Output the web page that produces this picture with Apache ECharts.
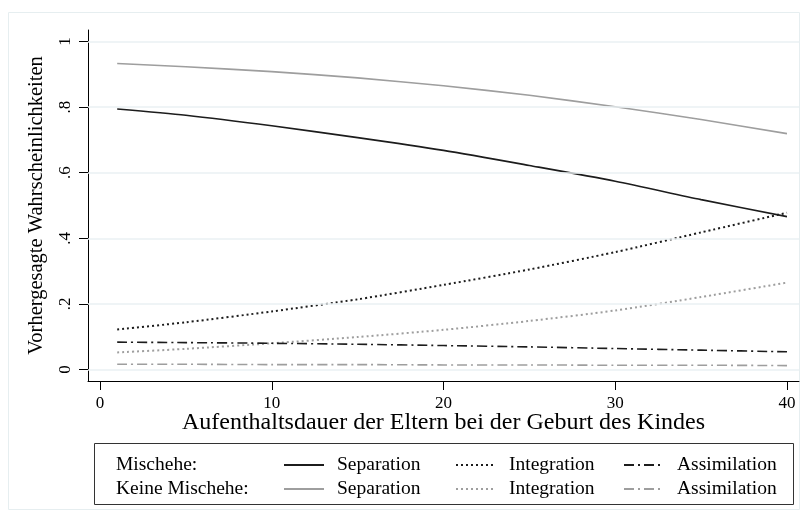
<!DOCTYPE html>
<html>
<head>
<meta charset="utf-8">
<script src="https://cdn.jsdelivr.net/npm/echarts@6/dist/echarts.min.js"></script>
<style>
  html, body { margin: 0; padding: 0; background: #fff; }
  #chart { width: 808px; height: 522px; }
</style>
</head>
<body>
<div id="chart"></div>
<script>
// ---- data ----
const years = [1, 5, 10, 15, 20, 25, 30, 35, 40];
const mischSeparation = [0.794, 0.775, 0.743, 0.707, 0.668, 0.622, 0.574, 0.518, 0.466];
const mischIntegration = [0.122, 0.144, 0.177, 0.214, 0.258, 0.305, 0.358, 0.418, 0.478];
const mischAssimilation = [0.0835, 0.082, 0.080, 0.077, 0.073, 0.069, 0.064, 0.059, 0.054];
const keineSeparation = [0.933, 0.923, 0.908, 0.889, 0.865, 0.836, 0.801, 0.762, 0.719];
const keineIntegration = [0.052, 0.063, 0.080, 0.099, 0.121, 0.148, 0.180, 0.221, 0.265];
const keineAssimilation = [0.016, 0.016, 0.015, 0.015, 0.014, 0.014, 0.013, 0.013, 0.012];
const xTicks = [0, 10, 20, 30, 40];
const yTicks = [0, 0.2, 0.4, 0.6, 0.8, 1];
const yTickLabels = ['0', '.2', '.4', '.6', '.8', '1'];
const xTitle = 'Aufenthaltsdauer der Eltern bei der Geburt des Kindes';
const yTitle = 'Vorhergesagte Wahrscheinlichkeiten';
const groupLabels = ['Mischehe:', 'Keine Mischehe:'];
const outcomeNames = ['Separation', 'Integration', 'Assimilation'];

// ---- styling ----
const FONT = 'Liberation Serif';
const DARK = '#1c1c1c';
const GRAY = '#9e9e9e';
const DOT = [2, 3];
const DASHDOT = [10, 4, 2, 4];

const pairs = d => years.map((x, i) => [x, d[i]]);
function lineSeries(name, data, color, type, width) {
  return {
    name: name, type: 'line', data: pairs(data), symbol: 'none', smooth: 0.25, z: 3,
    lineStyle: { color: color, width: width, type: type },
    itemStyle: { color: color }
  };
}

const series = [
  lineSeries('Mischehe: Separation', mischSeparation, DARK, 'solid', 1.6),
  lineSeries('Keine Mischehe: Separation', keineSeparation, GRAY, 'solid', 1.6),
  lineSeries('Mischehe: Integration', mischIntegration, DARK, DOT, 2),
  lineSeries('Keine Mischehe: Integration', keineIntegration, GRAY, DOT, 2),
  lineSeries('Mischehe: Assimilation', mischAssimilation, DARK, DASHDOT, 1.6),
  lineSeries('Keine Mischehe: Assimilation', keineAssimilation, GRAY, DASHDOT, 1.6),
  {
    name: 'grid', type: 'line', data: [], z: 1, silent: true,
    markLine: {
      silent: true, symbol: 'none', label: { show: false },
      lineStyle: { color: '#eaf1f3', width: 1.6, type: 'solid' },
      data: yTicks.map(v => ({ yAxis: v }))
    }
  }
];

const legendCols = [283, 455, 623];
const legends = outcomeNames.map((o, i) => ({
  orient: 'vertical',
  left: legendCols[i], top: 455, padding: 0,
  itemWidth: 40, itemHeight: 14, itemGap: 4,
  data: ['Mischehe: ' + o, 'Keine Mischehe: ' + o],
  formatter: n => n.split(': ')[1],
  itemStyle: { opacity: 0 },
  textStyle: { fontFamily: FONT, fontSize: 19.5, lineHeight: 20, color: '#000', padding: [0, 0, 0, 8] },
  selectedMode: false
}));

const chart = echarts.init(document.getElementById('chart'), null, { renderer: 'canvas' });
chart.setOption({
  animation: false,
  backgroundColor: '#fff',
  textStyle: { fontFamily: FONT },
  grid: { left: 88, right: 9, top: 30, bottom: 141, containLabel: false },
  xAxis: {
    type: 'value', min: -0.7, max: 40.7,
    name: xTitle, nameLocation: 'middle', nameGap: 30, nameMoveOverlap: false,
    nameTextStyle: { fontFamily: FONT, fontSize: 24, color: '#000' },
    axisLine: { show: true, onZero: false, lineStyle: { color: '#000', width: 1 } },
    axisTick: { show: true, length: 9, customValues: xTicks, lineStyle: { color: '#000' } },
    axisLabel: { customValues: xTicks, fontFamily: FONT, fontSize: 17, color: '#000', margin: 14 },
    splitLine: { show: false }
  },
  yAxis: {
    type: 'value', min: -0.035, max: 1.035,
    name: yTitle, nameLocation: 'middle', nameGap: 41, nameRotate: 90, nameMoveOverlap: false,
    nameTextStyle: { fontFamily: FONT, fontSize: 20.5, color: '#000' },
    axisLine: { show: true, onZero: false, lineStyle: { color: '#000', width: 1 } },
    axisTick: { show: true, length: 9, customValues: yTicks, lineStyle: { color: '#000' } },
    axisLabel: {
      customValues: yTicks, rotate: 90, fontFamily: FONT, fontSize: 17, color: '#000', margin: 14,
      formatter: v => yTickLabels[yTicks.findIndex(t => Math.abs(t - v) < 1e-9)]
    },
    splitLine: { show: false }
  },
  legend: legends,
  graphic: [
    { type: 'rect', shape: { x: 8.5, y: 12.5, width: 791, height: 497 },
      style: { fill: 'none', stroke: '#e6eef0', lineWidth: 1 }, z: -1 },
    { type: 'rect', shape: { x: 94.5, y: 443.5, width: 699, height: 61 },
      style: { fill: 'none', stroke: '#333', lineWidth: 1 } },
    { type: 'text', left: 116, top: 455,
      style: { text: groupLabels[0], font: '19.5px "Liberation Serif"', fill: '#000' } },
    { type: 'text', left: 116, top: 479,
      style: { text: groupLabels[1], font: '19.5px "Liberation Serif"', fill: '#000' } }
  ],
  series: series
});
</script>
</body>
</html>
